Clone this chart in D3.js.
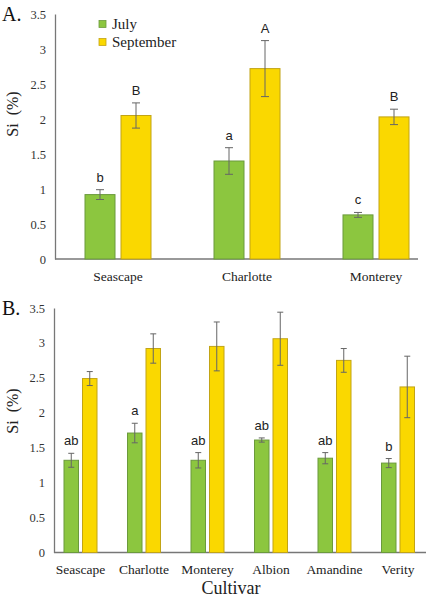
<!DOCTYPE html>
<html><head><meta charset="utf-8">
<script src="https://cdn.jsdelivr.net/npm/d3@7"></script>
<style>body{margin:0;background:#fff}svg{display:block}</style>
</head><body>
<svg id="c" width="426" height="602"></svg>
<script>
// Panel A data
const catsA = ["Seascape", "Charlotte", "Monterey"];
const julyA = [0.92, 1.40, 0.63];
const julyErrA = [0.07, 0.19, 0.035];
const sepA = [2.05, 2.72, 2.03];
const sepErrA = [0.18, 0.40, 0.11];
const julyLblA = ["b", "a", "c"];
const sepLblA = ["B", "A", "B"];
// Panel B data
const catsB = ["Seascape", "Charlotte", "Monterey", "Albion", "Amandine", "Verity"];
const julyB = [1.32, 1.71, 1.32, 1.61, 1.35, 1.28];
const julyErrB = [0.10, 0.14, 0.11, 0.03, 0.08, 0.065];
const sepB = [2.49, 2.92, 2.95, 3.06, 2.75, 2.37];
const sepErrB = [0.10, 0.21, 0.35, 0.38, 0.17, 0.44];
const julyLblB = ["ab", "a", "ab", "ab", "ab", "b"];
const sepLblB = ["", "", "", "", "", ""];
const yTicks = [0, 0.5, 1, 1.5, 2, 2.5, 3, 3.5];
const seriesNames = ["July", "September"];

const GREEN = "#8cc63f", GREEN_S = "#6b9a3c";
const YELLOW = "#fad800", YELLOW_S = "#c2a415";
const SERIF = "'Liberation Serif','Times New Roman',serif";
const SANS = "'Liberation Sans',Arial,sans-serif";

const svg = d3.select("#c");

function panel(cfg) {
  const g = svg.append("g");
  const y = d3.scaleLinear().domain([0, 3.5]).range([cfg.y0, cfg.y1]);
  const x = d3.scaleBand().domain(cfg.cats).range(cfg.xr).paddingInner(0).paddingOuter(0);
  const sub = d3.scaleBand().domain(seriesNames).range([0, cfg.bw * 2 + cfg.gap]).paddingInner(cfg.gap / (cfg.bw + cfg.gap));
  const offset = (x.bandwidth() - (cfg.bw * 2 + cfg.gap)) / 2;

  // y axis
  const ya = d3.axisLeft(y).tickValues(yTicks).tickSize(0).tickPadding(9)
    .tickFormat(d => d3.format("")(d));
  const yg = g.append("g").attr("transform", `translate(${cfg.axX},0)`).call(ya)
    .attr("font-family", SERIF).attr("font-size", 12.5);
  yg.select(".domain").attr("stroke", "#777").attr("stroke-width", 1.3);
  yg.selectAll("text").style("font-family", SERIF).attr("font-size", 12.5).attr("fill", "#333");

  // x axis
  const xa = d3.axisBottom(x).tickSize(0).tickPadding(cfg.xPad);
  const xg = g.append("g").attr("transform", `translate(0,${cfg.y0})`).call(xa)
    .attr("font-family", SERIF).attr("font-size", cfg.catFs);
  xg.select(".domain").remove();
  xg.append("line").attr("x1", cfg.axX).attr("x2", cfg.axEnd).attr("y1", 0).attr("y2", 0)
    .attr("stroke", "#777").attr("stroke-width", 1.3);
  xg.selectAll("text").style("font-family", SERIF).attr("font-size", cfg.catFs).attr("fill", "#222");

  const series = [
    {name: "July", vals: cfg.july, errs: cfg.julyErr, lbl: cfg.julyLbl, fill: GREEN, stroke: GREEN_S},
    {name: "September", vals: cfg.sep, errs: cfg.sepErr, lbl: cfg.sepLbl, fill: YELLOW, stroke: YELLOW_S}
  ];
  series.forEach(s => {
    cfg.cats.forEach((c, i) => {
      const bx = x(c) + offset + sub(s.name);
      const bw = sub.bandwidth();
      const v = s.vals[i], e = s.errs[i];
      g.append("rect").attr("x", bx).attr("y", y(v)).attr("width", bw).attr("height", y(0) - y(v))
        .attr("fill", s.fill).attr("stroke", s.stroke).attr("stroke-width", 1);
      const cx = bx + bw / 2;
      const eg = g.append("g").attr("stroke", "#666").attr("stroke-width", 1);
      eg.append("line").attr("x1", cx).attr("x2", cx).attr("y1", y(v + e)).attr("y2", y(v - e));
      eg.append("line").attr("x1", cx - cfg.cap).attr("x2", cx + cfg.cap).attr("y1", y(v + e)).attr("y2", y(v + e));
      eg.append("line").attr("x1", cx - cfg.cap).attr("x2", cx + cfg.cap).attr("y1", y(v - e)).attr("y2", y(v - e));
      if (s.lbl[i]) {
        g.append("text").attr("x", cx).attr("y", y(v + e) - 8).attr("text-anchor", "middle")
          .attr("font-family", SANS).attr("font-size", 13).attr("fill", "#222").text(s.lbl[i]);
      }
    });
  });

  // panel letter
  g.append("text").attr("x", 2).attr("y", cfg.y1 + 7).attr("font-family", SERIF).attr("font-size", 20)
    .attr("fill", "#111").text(cfg.letter);
  // y title
  g.append("text").attr("transform", `translate(${cfg.ytX},${cfg.ytY}) rotate(-90)`)
    .attr("text-anchor", "middle").attr("font-family", SERIF).attr("font-size", 16).attr("fill", "#222")
    .text("Si\u00a0\u00a0(%)");
  return {g, x, y};
}

panel({letter: "A.", cats: catsA, july: julyA, julyErr: julyErrA, sep: sepA, sepErr: sepErrA,
  julyLbl: julyLblA, sepLbl: sepLblA, y0: 259, y1: 14, axX: 55, axEnd: 418,
  xr: [53.5, 440.5], bw: 30, gap: 6, cap: 4, xPad: 12, catFs: 13.5, ytX: 18, ytY: 114});

panel({letter: "B.", cats: catsB, july: julyB, julyErr: julyErrB, sep: sepB, sepErr: sepErrB,
  julyLbl: julyLblB, sepLbl: sepLblB, y0: 552.5, y1: 308, axX: 54, axEnd: 426,
  xr: [48.75, 429.75], bw: 14.5, gap: 4, cap: 3, xPad: 12, catFs: 13.5, ytX: 18, ytY: 411});

// legend (panel A)
const leg = svg.append("g");
seriesNames.forEach((n, i) => {
  const yy = 24 + i * 18;
  leg.append("rect").attr("x", 99).attr("y", yy - 3.5).attr("width", 7).attr("height", 7)
    .attr("fill", i === 0 ? GREEN : YELLOW).attr("stroke", i === 0 ? GREEN_S : YELLOW_S).attr("stroke-width", 0.8);
  leg.append("text").attr("x", 112).attr("y", yy + 5).attr("font-family", SERIF).attr("font-size", 15)
    .attr("fill", "#222").text(n);
});

// x title (panel B)
svg.append("text").attr("x", 231).attr("y", 594).attr("text-anchor", "middle")
  .attr("font-family", SERIF).attr("font-size", 18).attr("fill", "#222").text("Cultivar");
</script>
</body></html>
